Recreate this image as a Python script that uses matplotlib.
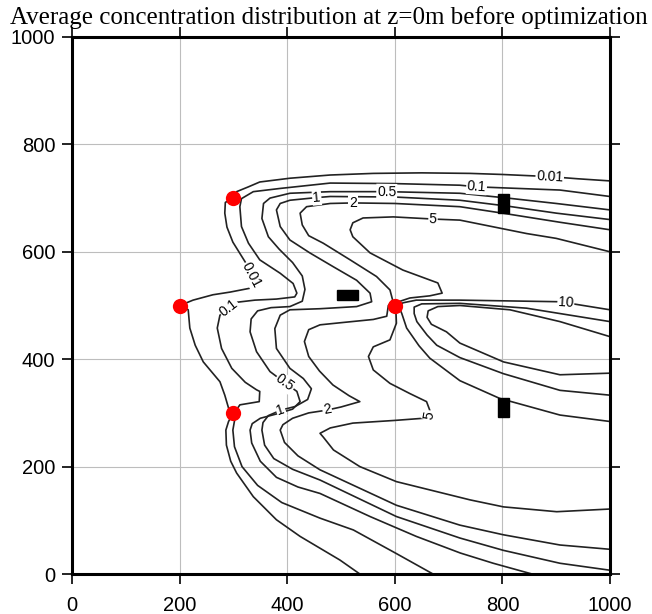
import matplotlib.pyplot as plt
from matplotlib.patches import Rectangle
import numpy as np

# contour lines (x, y in m)
c001_x = [1000, 940, 888, 800, 740, 650, 560, 480, 405, 349, 328, 306, 300, 285, 284, 288, 299, 322, 331, 340, 346,
          330, 294, 262, 225, 203, 216, 219, 229, 244, 275, 284, 291, 300, 291, 286, 287, 295, 306, 337, 380, 424,
          461, 498, 535]
c001_y = [732, 736, 740, 744, 746, 747, 746, 743, 737, 730, 721, 712, 700, 692, 672, 646, 618, 581, 566, 547, 537,
          532, 525, 520, 510, 501, 492, 458, 426, 395, 358, 333, 309, 300, 284, 268, 240, 210, 188, 144, 101, 70,
          48, 26, 0]

c01_x = [1000, 907, 777, 752, 721, 600, 480, 387, 337, 315, 312, 315, 328, 349, 387, 411, 418, 414, 380, 340, 306,
         292, 275, 270, 278, 297, 322, 343, 349, 348, 312, 302, 302, 299, 302, 316, 345, 390, 461, 523, 603, 671]
c01_y = [703, 715, 720, 721, 724, 727, 728, 718, 712, 699, 684, 647, 616, 585, 560, 541, 523, 516, 512, 510, 506,
         495, 482, 458, 420, 383, 357, 343, 340, 321, 315, 300, 285, 268, 237, 200, 165, 133, 104, 82, 38, 0]

c05_x = [1000, 900, 810, 721, 585, 480, 405, 368, 356, 353, 365, 385, 410, 428, 433, 428, 405, 370, 345, 333,
         331, 343, 368, 396, 418, 424, 410, 380, 350, 335, 331, 334, 350, 380, 420, 461, 554, 640, 722, 783, 855]
c05_y = [678, 690, 700, 709, 712, 712, 709, 700, 690, 662, 628, 605, 580, 555, 530, 508, 498, 496, 490, 475,
         451, 414, 377, 356, 340, 321, 307, 298, 290, 280, 268, 244, 210, 180, 162, 150, 107, 70, 39, 20, 0]

c1_x = [1000, 900, 810, 721, 600, 480, 455, 405, 387, 380, 387, 405, 442, 486, 529, 554, 557, 529, 461, 405, 387,
        377, 380, 405, 430, 445, 438, 415, 388, 365, 355, 353, 358, 375, 410, 461, 603, 721, 802, 907, 1000]
c1_y = [660, 672, 685, 696, 702, 703, 701, 696, 690, 678, 647, 622, 598, 572, 547, 523, 507, 498, 494, 492, 482,
        457, 420, 383, 364, 345, 325, 312, 305, 295, 282, 268, 240, 215, 195, 175, 107, 67, 44, 20, 7]

c2_x = [1000, 907, 800, 721, 600, 522, 480, 436, 424, 428, 440, 467, 517, 566, 591, 596, 588, 585, 560, 500, 461,
        440, 432, 440, 460, 485, 515, 535, 500, 473, 440, 410, 392, 387, 395, 420, 461, 603, 721, 802, 907, 1000]
c2_y = [641, 655, 672, 684, 690, 691, 690, 684, 672, 650, 630, 616, 585, 554, 529, 510, 500, 480, 474, 468, 464,
        455, 433, 405, 378, 352, 332, 321, 311, 305, 300, 290, 278, 268, 245, 220, 194, 128, 91, 73, 54, 46]

c5_x = [1000, 900, 845, 721, 671, 597, 541, 522, 517, 522, 554, 615, 680, 688, 665, 628, 610, 602, 603, 591, 560,
        551, 560, 591, 628, 659, 665, 653, 600, 522, 480, 461, 467, 486, 535, 603, 740, 802, 901, 1000]
c5_y = [600, 625, 634, 659, 661, 665, 663, 654, 641, 628, 598, 566, 542, 523, 518, 514, 508, 492, 467, 436, 423,
        405, 380, 355, 336, 321, 305, 290, 286, 281, 272, 262, 255, 231, 200, 172, 138, 125, 116, 121]

c10_x = [1000, 907, 721, 640, 615, 608, 613, 622, 645, 665, 721, 795, 907, 1000]
c10_y = [492, 507, 510, 510, 505, 497, 485, 458, 425, 402, 360, 327, 296, 284]

c20_x = [1000, 845, 721, 650, 636, 636, 641, 660, 678, 721, 802, 907, 1000]
c20_y = [470, 495, 504, 503, 497, 485, 470, 445, 426, 403, 373, 342, 333]

c50_x = [1000, 907, 814, 721, 680, 662, 660, 668, 696, 721, 802, 907, 1000]
c50_y = [442, 470, 492, 500, 498, 490, 478, 465, 451, 430, 395, 371, 374]

# receptors (red) and buildings (black)
sensor_x = [300, 200, 300, 600]
sensor_y = [700, 500, 300, 500]
bld_x = [802, 512, 802]
bld_y = [690, 520, 310]
bld_w = [19, 40, 19]
bld_h = [37, 19, 37]

# contour annotations: text, x, y
lab_text = ['0.01', '0.1', '0.5', '1', '2', '5', '10', '0.01', '0.1', '0.5', '1', '2', '5']
lab_x = [888, 752, 585, 455, 522, 671, 918, 334, 292, 396, 388, 474, 664]
lab_y = [740, 721, 712, 701, 691, 661, 506, 556, 495, 356, 305, 307, 296]

lines = [(c001_x, c001_y), (c01_x, c01_y), (c05_x, c05_y), (c1_x, c1_y), (c2_x, c2_y),
         (c5_x, c5_y), (c10_x, c10_y), (c20_x, c20_y), (c50_x, c50_y)]


def label_angle(ax, x0, y0):
    best = None
    p0 = ax.transData.transform((x0, y0))
    for xs, ys in lines:
        pts = ax.transData.transform(np.column_stack([xs, ys]))
        d = np.hypot(*(pts - p0).T)
        i = np.argmin(d)
        if best is None or d[i] < best[0]:
            best = (d[i], pts, i)
    _, pts, i = best
    j = min(i + 1, len(pts) - 1)
    k = max(i - 1, 0)
    dx, dy = pts[j] - pts[k]
    ang = np.degrees(np.arctan2(dy, dx))
    if ang > 90:
        ang -= 180
    if ang < -90:
        ang += 180
    return ang


def main():
    fig = plt.figure(figsize=(6.52, 6.14), dpi=100)
    ax = fig.add_axes([72 / 652, 40 / 614, 538 / 652, 537 / 614])
    ax.set_xlim(0, 1000)
    ax.set_ylim(0, 1000)

    for v in range(200, 1000, 200):
        ax.axvline(v, color='#bdbdbd', lw=0.8, zorder=0)
        ax.axhline(v, color='#bdbdbd', lw=0.8, zorder=0)

    for xs, ys in lines:
        ax.plot(xs, ys, color='#222222', lw=1.2, zorder=2, solid_joinstyle='round')

    for t, x, y in zip(lab_text, lab_x, lab_y):
        ax.text(x, y, t, ha='center', va='center', fontsize=10, family='Liberation Sans',
                rotation=label_angle(ax, x, y), rotation_mode='anchor', zorder=3,
                bbox=dict(facecolor='white', edgecolor='none', pad=0.6))

    for x, y, w, h in zip(bld_x, bld_y, bld_w, bld_h):
        ax.add_patch(Rectangle((x - w / 2, y - h / 2), w, h, color='black', zorder=4))

    ax.plot(sensor_x, sensor_y, 'o', color='#ff0000', ms=11, mec='none', zorder=5)

    ax.set_xticks(range(0, 1001, 200))
    ax.set_yticks(range(0, 1001, 200))
    ax.tick_params(direction='out', length=7, width=1.2, labelsize=14.5,
                   top=True, right=True, pad=5)
    ax.tick_params(axis='x', pad=9)
    for lbl in ax.get_xticklabels() + ax.get_yticklabels():
        lbl.set_family('Liberation Sans')
    for s in ax.spines.values():
        s.set_linewidth(2.2)

    fig.text(329 / 652, 1 - 18 / 614, 'Average concentration distribution at z=0m before optimization',
             ha='center', va='center', fontsize=18, family='Liberation Serif')
    fig.savefig('out.png', dpi=100)
    return


if __name__ == '__main__':
    main()
